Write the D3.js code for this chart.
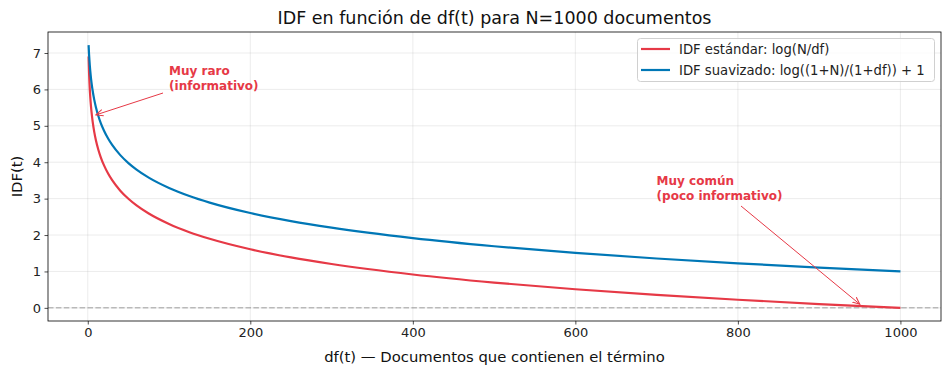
<!DOCTYPE html>
<html>
<head>
<meta charset="utf-8">
<script src="https://cdn.jsdelivr.net/npm/d3@7"></script>
<style>
  body { margin: 0; background: #fff; }
  svg { font-family: "DejaVu Sans", sans-serif; }
</style>
</head>
<body>
<svg id="chart" width="950" height="374"></svg>
<script>
// df(t) sample points and the two IDF curves
var dfValues = [1, 1.5, 2, 3, 4, 5, 6, 8, 10, 13, 16, 20, 25, 30, 40, 50, 60, 75, 100, 125, 150, 200, 250, 300, 400, 500, 600, 700, 800, 900, 1000];
var idfStandard = [6.908, 6.502, 6.215, 5.809, 5.521, 5.298, 5.116, 4.828, 4.605, 4.343, 4.135, 3.912, 3.689, 3.507, 3.219, 2.996, 2.813, 2.590, 2.303, 2.079, 1.897, 1.609, 1.386, 1.204, 0.916, 0.693, 0.511, 0.357, 0.223, 0.105, 0];
var idfSmooth = [7.216, 6.992, 6.810, 6.523, 6.299, 6.117, 5.963, 5.712, 5.511, 5.270, 5.075, 4.864, 4.651, 4.475, 4.195, 3.977, 3.798, 3.578, 3.294, 3.073, 2.891, 2.605, 2.383, 2.202, 1.915, 1.692, 1.510, 1.356, 1.223, 1.105, 1.000];
var seriesNames = ["IDF estándar: log(N/df)", "IDF suavizado: log((1+N)/(1+df)) + 1"];
var seriesColors = ["#E63946", "#0077B6"];
var xTicks = [0, 200, 400, 600, 800, 1000];
var yTicks = [0, 1, 2, 3, 4, 5, 6, 7];

var svg = d3.select("#chart");
var plotLeft = 48, plotRight = 941, plotTop = 32, plotBottom = 321;

var x = d3.scaleLinear().domain([-48.95, 1049.95]).range([plotLeft, plotRight]);
var y = d3.scaleLinear().domain([-0.361, 7.577]).range([plotBottom, plotTop]);

var g = svg.append("g");

// grid
g.selectAll(".vgrid").data(xTicks).enter().append("line")
    .attr("x1", function(d){ return x(d); }).attr("x2", function(d){ return x(d); })
    .attr("y1", plotTop).attr("y2", plotBottom)
    .attr("stroke", "#b0b0b0").attr("stroke-opacity", 0.3).attr("stroke-width", 0.8);
g.selectAll(".hgrid").data(yTicks).enter().append("line")
    .attr("y1", function(d){ return y(d); }).attr("y2", function(d){ return y(d); })
    .attr("x1", plotLeft).attr("x2", plotRight)
    .attr("stroke", "#b0b0b0").attr("stroke-opacity", 0.3).attr("stroke-width", 0.8);

// dashed zero line
g.append("line")
    .attr("x1", plotLeft).attr("x2", plotRight)
    .attr("y1", y(0)).attr("y2", y(0))
    .attr("stroke", "#808080").attr("stroke-opacity", 0.5)
    .attr("stroke-width", 1.5).attr("stroke-dasharray", "5.5,2.4");

// curves
var line = d3.line()
    .x(function(d){ return x(d[0]); })
    .y(function(d){ return y(d[1]); })
    .curve(d3.curveMonotoneX);

[idfStandard, idfSmooth].forEach(function(vals, i){
  g.append("path")
      .datum(dfValues.map(function(d, j){ return [d, vals[j]]; }))
      .attr("fill", "none")
      .attr("stroke", seriesColors[i])
      .attr("stroke-width", 2.2)
      .attr("d", line);
});

// axes
var xAxis = g.append("g").attr("transform", "translate(0," + plotBottom + ")")
    .call(d3.axisBottom(x).tickValues(xTicks).tickSize(3.5).tickPadding(3.5).tickFormat(d3.format("d")));
var yAxis = g.append("g").attr("transform", "translate(" + plotLeft + ",0)")
    .call(d3.axisLeft(y).tickValues(yTicks).tickSize(3.5).tickPadding(3.5));
[xAxis, yAxis].forEach(function(a){
  a.select(".domain").remove();
  a.selectAll("text").attr("font-size", 13).attr("fill", "#222").attr("font-family", "DejaVu Sans");
  a.selectAll("line").attr("stroke", "#222").attr("stroke-width", 0.8);
});

// frame
g.append("rect")
    .attr("x", plotLeft).attr("y", plotTop)
    .attr("width", plotRight - plotLeft).attr("height", plotBottom - plotTop)
    .attr("fill", "none").attr("stroke", "#000").attr("stroke-width", 0.8);

// titles
svg.append("text").attr("x", (plotLeft + plotRight) / 2).attr("y", 24)
    .attr("text-anchor", "middle").attr("font-size", 17.5).attr("fill", "#111")
    .text("IDF en función de df(t) para N=1000 documentos");
svg.append("text").attr("x", (plotLeft + plotRight) / 2).attr("y", 362)
    .attr("text-anchor", "middle").attr("font-size", 14.8).attr("fill", "#111")
    .text("df(t) — Documentos que contienen el término");
svg.append("text").attr("transform", "translate(22," + (plotTop + plotBottom) / 2 + ") rotate(-90)")
    .attr("text-anchor", "middle").attr("font-size", 14.8).attr("fill", "#111")
    .text("IDF(t)");

// annotations
var defs = svg.append("defs");
defs.append("marker").attr("id", "arrowhead")
    .attr("viewBox", "0 0 10 10").attr("refX", 9).attr("refY", 5)
    .attr("markerWidth", 8).attr("markerHeight", 8).attr("orient", "auto")
    .append("path").attr("d", "M0,1 L9,5 L0,9").attr("fill", "none")
    .attr("stroke", "#E63946").attr("stroke-width", 1.3);

var notes = [
  {lines: ["Muy raro", "(informativo)"], tx: 100, ty: 6.0, ax: 163, ay: 93, px: 10, py: 5.3},
  {lines: ["Muy común", "(poco informativo)"], tx: 700, ty: 3.0, ax: 741, ay: 206, px: 950, py: 0.1}
];
notes.forEach(function(n){
  var t = svg.append("text").attr("font-size", 12).attr("font-weight", "bold")
      .attr("fill", "#E63946");
  n.lines.forEach(function(s, i){
    t.append("tspan").attr("x", x(n.tx))
        .attr("y", y(n.ty) - 14 + i * 15).text(s);
  });
  svg.append("line")
      .attr("x1", n.ax).attr("y1", n.ay)
      .attr("x2", x(n.px)).attr("y2", y(n.py))
      .attr("stroke", "#E63946").attr("stroke-width", 1)
      .attr("marker-end", "url(#arrowhead)");
});

// legend
var lg = svg.append("g");
lg.append("rect").attr("x", 637.5).attr("y", 38.5).attr("width", 297).attr("height", 43)
    .attr("rx", 3).attr("fill", "#fff").attr("fill-opacity", 0.8)
    .attr("stroke", "#d0d0d0").attr("stroke-width", 1);
seriesNames.forEach(function(name, i){
  var yy = 49 + i * 21;
  lg.append("line").attr("x1", 641).attr("x2", 670).attr("y1", yy).attr("y2", yy)
      .attr("stroke", seriesColors[i]).attr("stroke-width", 2.2);
  lg.append("text").attr("x", 679).attr("y", yy + 5)
      .attr("font-size", 13.2).attr("fill", "#222").text(name);
});
</script>
</body>
</html>
